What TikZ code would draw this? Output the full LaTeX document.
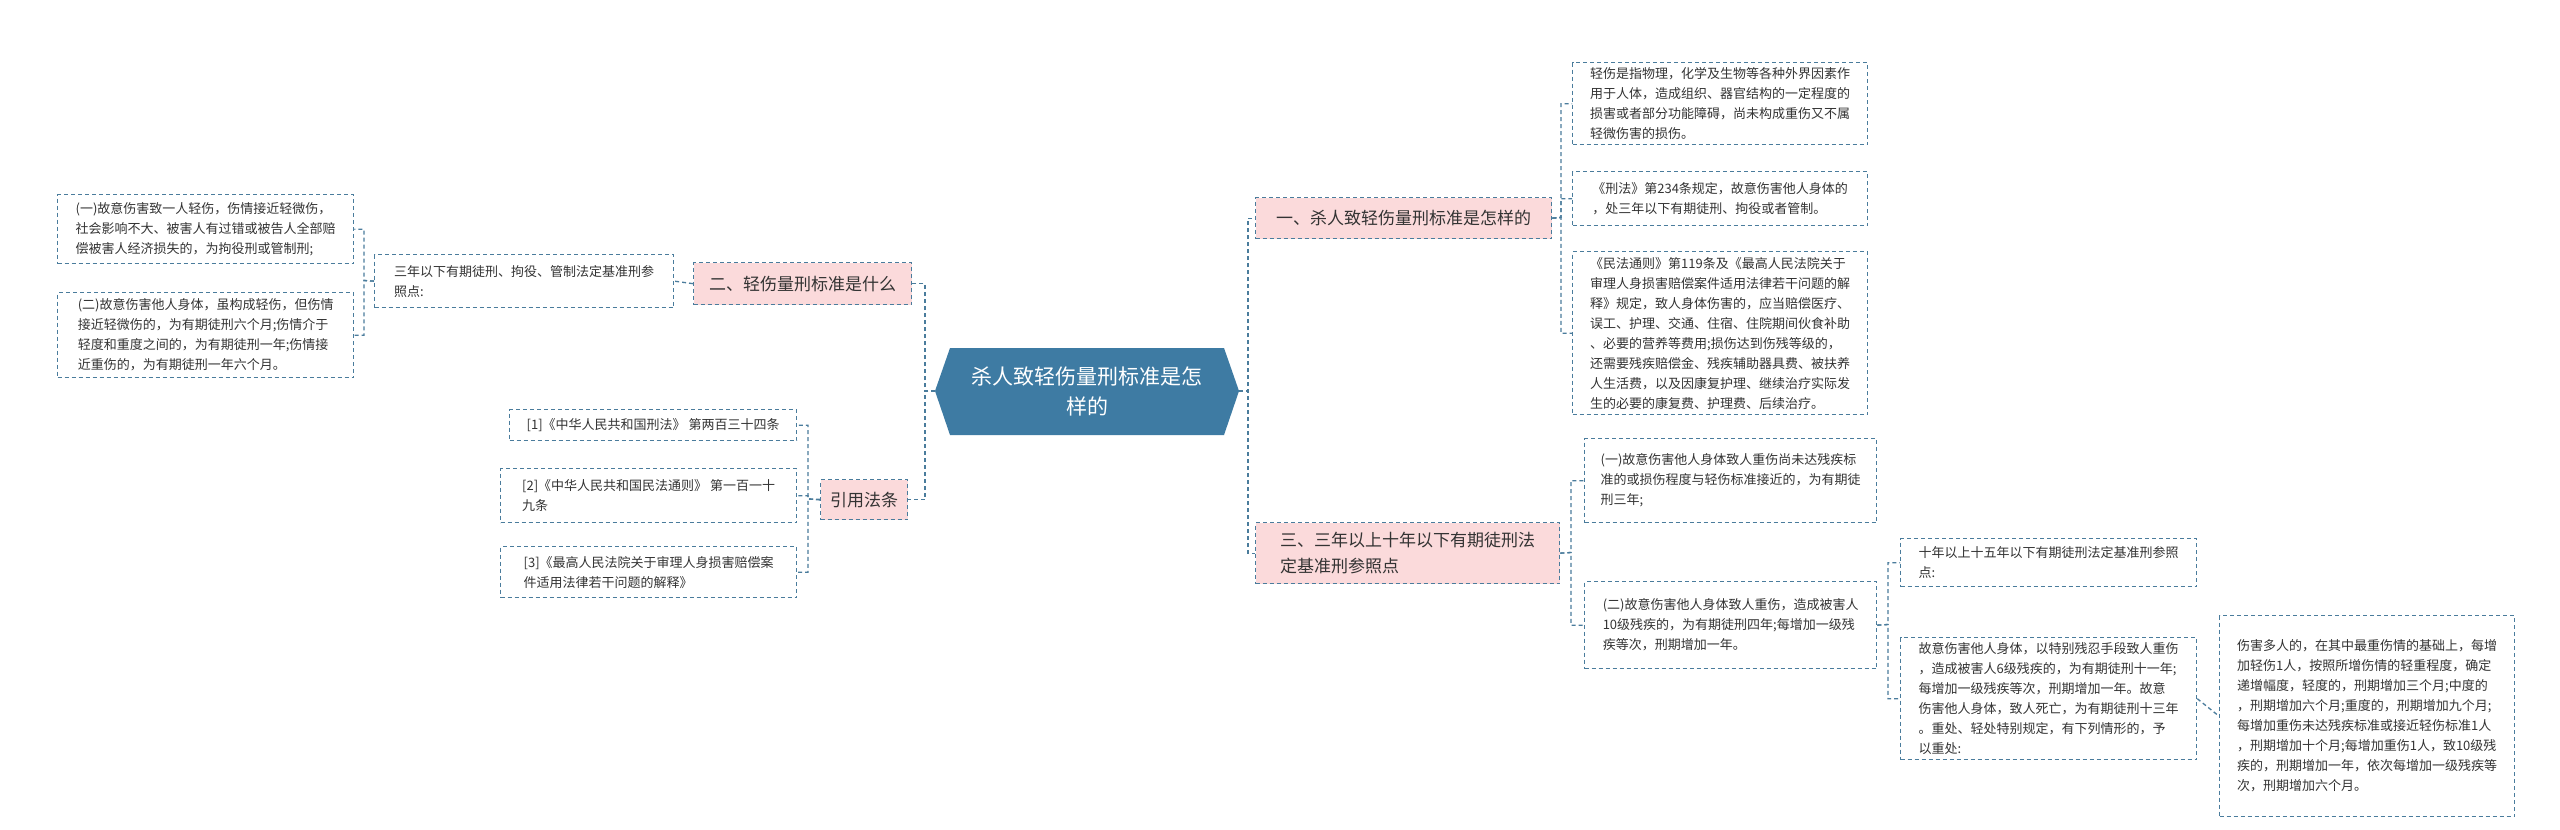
\documentclass[tikz,border=0pt]{standalone}
\usepackage{fontspec}
\setmainfont{Noto Sans CJK SC}
\usetikzlibrary{calc}
\definecolor{ln}{HTML}{4A7C9C}
\definecolor{pk}{HTML}{FBDADB}
\definecolor{ctr}{HTML}{3E7BA3}
\definecolor{tx}{HTML}{333333}
\tikzset{
 leaf/.style={draw=ln,dashed,line width=1.3pt,dash pattern=on 4pt off 3pt,anchor=north west,align=left,inner sep=5pt,font=\fontsize{13}{20}\selectfont,text=tx},
 branch/.style={leaf,fill=pk,font=\fontsize{17}{26}\selectfont,inner sep=6pt},
 conn/.style={draw=ln,line width=1.3pt,dash pattern=on 4pt off 3pt},
}
\begin{document}
\begin{tikzpicture}[x=1pt,y=1pt]
\useasboundingbox (0,0) rectangle (2560,-830);
\fill[white] (0,0) rectangle (2560,-830);
% center
\fill[ctr] (935,-391) -- (950,-348) -- (1224,-348) -- (1239,-391) -- (1224,-435) -- (950,-435) -- cycle;
\node[text=white,font=\fontsize{21}{30}\selectfont,align=center] (c) at (1087,-391) {杀人致轻伤量刑标准是怎\\样的};
\coordinate (cl) at (935,-391);
\coordinate (cr) at (1239,-391);
% branches
\node[branch,minimum width=296pt,minimum height=41pt] (b1) at (1255,-197) {一、杀人致轻伤量刑标准是怎样的};
\node[branch,minimum width=304pt,minimum height=61pt] (b3) at (1255,-522) {三、三年以上十年以下有期徒刑法\\定基准刑参照点};
\node[branch,minimum width=218pt,minimum height=42pt] (b2) at (693,-262) {二、轻伤量刑标准是什么};
\node[branch,minimum width=87pt,minimum height=40pt] (b4) at (820,-479) {引用法条};
% right leaves
\node[leaf,minimum width=295pt,minimum height=82pt] (r1a) at (1572,-62) {轻伤是指物理，化学及生物等各种外界因素作\\用于人体，造成组织、器官结构的一定程度的\\损害或者部分功能障碍，尚未构成重伤又不属\\轻微伤害的损伤。};
\node[leaf,minimum width=295pt,minimum height=54pt] (r1b) at (1572,-171) {《刑法》第234条规定，故意伤害他人身体的\\，处三年以下有期徒刑、拘役或者管制。};
\node[leaf,minimum width=295pt,minimum height=163pt] (r1c) at (1572,-251) {《民法通则》第119条及《最高人民法院关于\\审理人身损害赔偿案件适用法律若干问题的解\\释》规定，致人身体伤害的，应当赔偿医疗、\\误工、护理、交通、住宿、住院期间伙食补助\\、必要的营养等费用;损伤达到伤残等级的，\\还需要残疾赔偿金、残疾辅助器具费、被扶养\\人生活费，以及因康复护理、继续治疗实际发\\生的必要的康复费、护理费、后续治疗。};
\node[leaf,minimum width=292pt,minimum height=84pt] (r3a) at (1584,-438) {(一)故意伤害他人身体致人重伤尚未达残疾标\\准的或损伤程度与轻伤标准接近的，为有期徒\\刑三年;};
\node[leaf,minimum width=292pt,minimum height=87pt] (r3b) at (1584,-581) {(二)故意伤害他人身体致人重伤，造成被害人\\10级残疾的，为有期徒刑四年;每增加一级残\\疾等次，刑期增加一年。};
\node[leaf,minimum width=296pt,minimum height=48pt] (r3b1) at (1900,-538) {十年以上十五年以下有期徒刑法定基准刑参照\\点:};
\node[leaf,minimum width=296pt,minimum height=118pt] (r3b2) at (1900,-637) {故意伤害他人身体，以特别残忍手段致人重伤\\，造成被害人6级残疾的，为有期徒刑十一年;\\每增加一级残疾等次，刑期增加一年。故意\\伤害他人身体，致人死亡，为有期徒刑十三年\\。重处、轻处特别规定，有下列情形的，予\\以重处:};
\node[leaf,minimum width=295pt,minimum height=201pt] (r3b2a) at (2219,-615) {伤害多人的，在其中最重伤情的基础上，每增\\加轻伤1人，按照所增伤情的轻重程度，确定\\递增幅度，轻度的，刑期增加三个月;中度的\\，刑期增加六个月;重度的，刑期增加九个月;\\每增加重伤未达残疾标准或接近轻伤标准1人\\，刑期增加十个月;每增加重伤1人，致10级残\\疾的，刑期增加一年，依次每增加一级残疾等\\次，刑期增加六个月。};
% left leaves
\node[leaf,minimum width=296pt,minimum height=69pt] (l1) at (57,-194) {(一)故意伤害致一人轻伤，伤情接近轻微伤，\\社会影响不大、被害人有过错或被告人全部赔\\偿被害人经济损失的，为拘役刑或管制刑;};
\node[leaf,minimum width=296pt,minimum height=85pt] (l2) at (57,-292) {(二)故意伤害他人身体，虽构成轻伤，但伤情\\接近轻微伤的，为有期徒刑六个月;伤情介于\\轻度和重度之间的，为有期徒刑一年;伤情接\\近重伤的，为有期徒刑一年六个月。};
\node[leaf,minimum width=299pt,minimum height=53pt] (lm) at (374,-254) {三年以下有期徒刑、拘役、管制法定基准刑参\\照点:};
\node[leaf,minimum width=287pt,minimum height=31pt] (f1) at (509,-409) {[1]《中华人民共和国刑法》 第两百三十四条};
\node[leaf,minimum width=296pt,minimum height=54pt] (f2) at (500,-468) {[2]《中华人民共和国民法通则》 第一百一十\\九条};
\node[leaf,minimum width=296pt,minimum height=51pt] (f3) at (500,-546) {[3]《最高人民法院关于审理人身损害赔偿案\\件适用法律若干问题的解释》};
% connectors right
\draw[conn] (cr) -- (1248,-391) |- (b1.west);
\draw[conn] (cr) -- (1248,-391) |- (b3.west);
\foreach \t in {r1a,r1b,r1c} \draw[conn] (b1.east) -- (1561,-217.5) |- (\t.west);
\foreach \t in {r3a,r3b} \draw[conn] (b3.east) -- (1571,-552.5) |- (\t.west);
\foreach \t in {r3b1,r3b2} \draw[conn] (r3b.east) -- (1888,-624.5) |- (\t.west);
\draw[conn] (r3b2.east) -- (r3b2a.west);
% connectors left
\draw[conn] (cl) -- (925,-391) |- (b2.east);
\draw[conn] (cl) -- (925,-391) |- (b4.east);
\draw[conn] (b2.west) -- (lm.east);
\foreach \t in {l1,l2} \draw[conn] (lm.west) -- (364,-280.5) |- (\t.east);
\foreach \t in {f1,f2,f3} \draw[conn] (b4.west) -- (808,-499) |- (\t.east);
\end{tikzpicture}
\end{document}
